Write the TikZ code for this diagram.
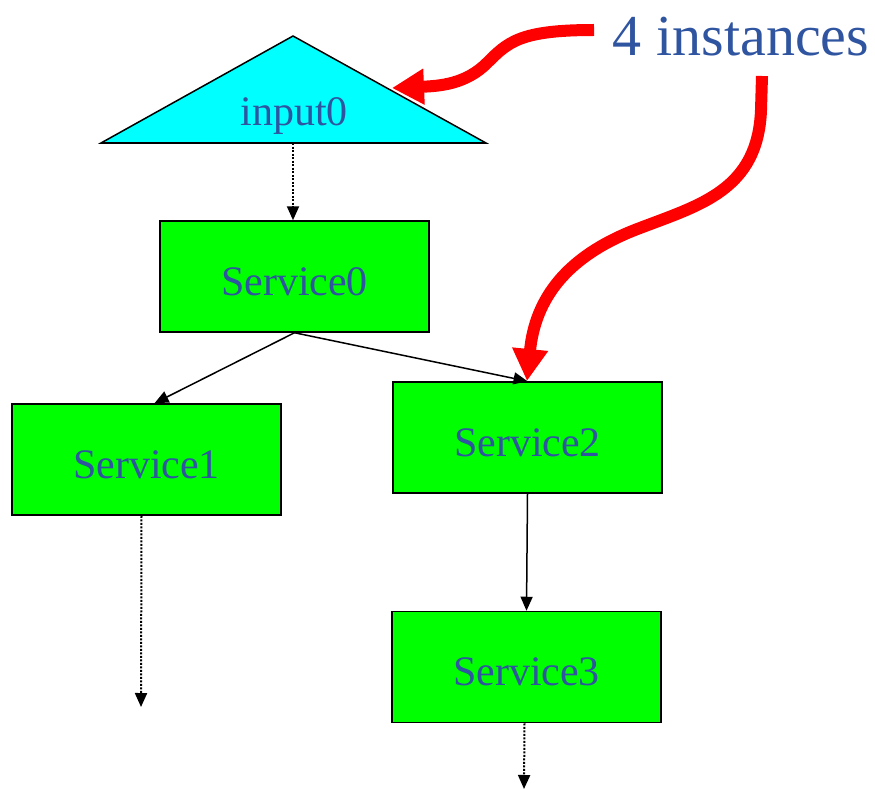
\documentclass[tikz,border=0pt]{standalone}
\usepackage{fontspec}
\setmainfont{Liberation Serif}
\usetikzlibrary{arrows.meta}
\definecolor{labelblue}{RGB}{47,84,160}
\definecolor{boxgreen}{RGB}{0,255,0}
\definecolor{tricyan}{RGB}{0,255,255}
\definecolor{callred}{RGB}{255,0,0}
\newcommand\svclabel[1]{\raisebox{-5pt}[\height][\depth]{#1}}
\begin{document}
\begin{tikzpicture}[x=1pt,y=-1pt,
  svc/.style={draw=black, line width=1.5pt, fill=boxgreen, minimum width=269pt,
    minimum height=111pt, inner sep=0pt, text=labelblue,
    font=\fontsize{42}{46}\selectfont},
  flow/.style={draw=black, line width=1.5pt, -{Triangle[length=14pt,width=12pt]}},
  dotflow/.style={flow, line width=2pt, dash pattern=on 2pt off 1.5pt},
  callout/.style={draw=callred, line width=12pt,
    -{Triangle[length=32pt,width=34pt]}}]
\useasboundingbox (0,0) rectangle (875,789);

% input triangle
\draw[fill=tricyan, line width=1.5pt, line join=miter] (101,143) -- (293,36) -- (486,143) -- cycle;
\node[text=labelblue, font=\fontsize{42}{46}\selectfont] (in0) at (294,116) {input0};
\coordinate (in0b) at (293,143);

% services
\node[svc] (s0) at (294.5,276.5) {\svclabel{Service0}};
\node[svc] (s1) at (146.5,459.5) {\svclabel{Service1}};
\node[svc] (s2) at (527.5,437.5) {\svclabel{Service2}};
\node[svc] (s3) at (526.5,667) {\svclabel{Service3}};

\coordinate (s1out) at (141,707);
\coordinate (s3out) at (524,789);

% connectors
\draw[dotflow] (in0b) -- (s0.north -| in0b);
\draw[flow] (s0.south) -- ([xshift=8pt]s1.north);
\draw[flow] (s0.south) -- (s2.north);
\draw[flow] (s2.south) -- (s3.north);
\draw[dotflow] ([xshift=-5pt]s1.south) -- (s1out);
\draw[dotflow] ([xshift=-2pt]s3.south) -- (s3out);

% annotation
\node[text=labelblue, font=\fontsize{58}{62}\selectfont, anchor=center] (note) at (741,37) {4 instances};
\coordinate (c1) at (594,30);
\coordinate (c2) at (762,76);
\draw[callout] (c1) .. controls (520,30) and (508,42) .. (487,63)
  .. controls (466,84) and (440,86) .. (392,88);
\draw[callout] (c2) -- (761,110) .. controls (758,190) and (700,205) .. (640,228)
  .. controls (565,256) and (535,300) .. (527,381);
\end{tikzpicture}
\end{document}
